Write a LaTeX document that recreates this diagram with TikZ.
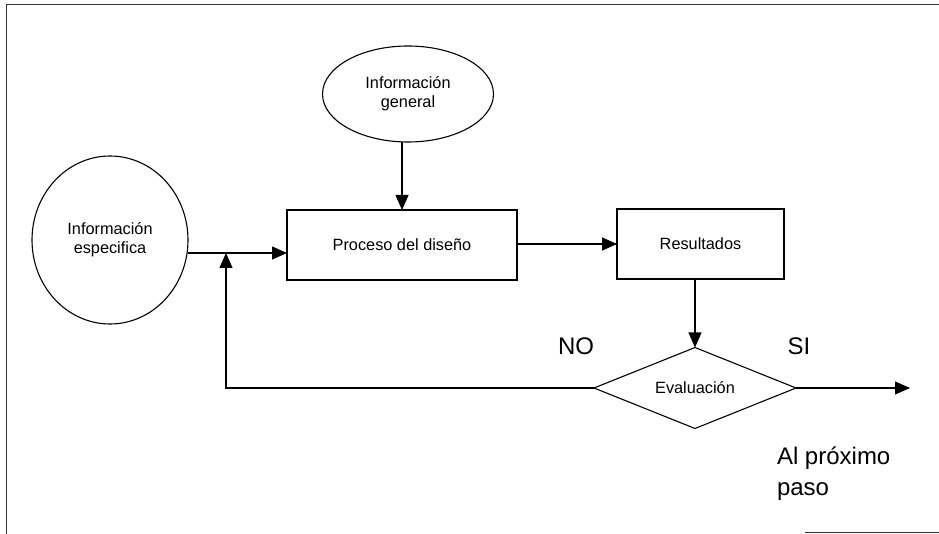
\documentclass[tikz,border=0pt]{standalone}
\usepackage{fontspec}
\setmainfont{Liberation Sans}
\usetikzlibrary{shapes.geometric,arrows.meta}

\begin{document}
\begin{tikzpicture}[x=1pt,y=-1pt,
  every node/.style={inner sep=0pt, outer sep=0pt},
  small/.style={font=\fontsize{16.3}{19}\selectfont},
  big/.style={font=\fontsize{24}{31}\selectfont},
  oval/.style={draw, line width=1.1pt, ellipse, small, align=center},
  box/.style={draw, line width=1.1pt, rectangle, small, align=center},
  decision/.style={draw, line width=1.1pt, diamond, aspect=2.5, small},
  arr/.style={line width=1.1pt, -{Triangle[length=15pt,width=13pt]}},
  frameline/.style={line width=0.9pt, black!80}]

  % page extent
  \useasboundingbox (0,0) rectangle (939,534);

  % outer frame fragments
  \coordinate (ftl) at (6.5,4.5);
  \coordinate (ftr) at (939,4.5);
  \coordinate (fbl) at (6.5,534);
  \coordinate (fbr1) at (805,532);
  \coordinate (fbr2) at (939,532);
  \draw[frameline] (ftr) -- (ftl) -- (fbl);
  \draw[frameline] (fbr1) -- (fbr2);

  % blocks
  \node[oval, minimum width=171pt, minimum height=96pt] (gen) at (408,94)
    {Información\\general};
  \node[oval, minimum width=156pt, minimum height=168pt] (esp) at (110,240)
    {Información\\especifica};
  \node[box, minimum width=230pt, minimum height=70pt] (proc) at (402,245)
    {Proceso del diseño};
  \node[box, minimum width=167pt, minimum height=70pt] (res) at (700.5,244)
    {Resultados};
  \node[decision, minimum width=202pt, minimum height=81pt] (eval) at (695,388)
    {Evaluación};

  % helper points
  \coordinate (j) at (226,253);
  \coordinate (out) at (910,388);

  % labels
  \node[big] (no) at (576,346) {NO};
  \node[big] (si) at (799,346) {SI};
  \node[big, align=left, anchor=north west] (next) at (777,447)
    {Al próximo\\paso};

  % connectors
  \draw[arr] (proc.north |- gen.south) -- (proc.north);
  \draw[arr] (esp.east |- j) -- (proc.west |- j);
  \draw[arr] (proc.east |- res.west) -- (res.west);
  \draw[arr] (eval.north |- res.south) -- (eval.north);
  \draw[arr] (eval.west) -- (j |- eval.west) -- (j);
  \draw[arr] (eval.east) -- (out);
\end{tikzpicture}
\end{document}
